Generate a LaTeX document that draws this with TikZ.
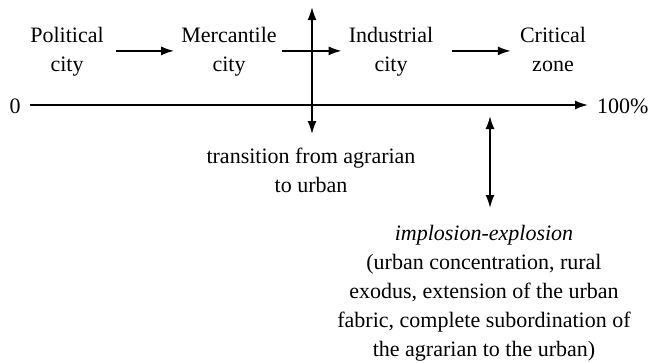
\documentclass[tikz,border=0pt]{standalone}
\usepackage{fontspec}
\setmainfont{Liberation Serif}
\usetikzlibrary{arrows.meta}
\begin{document}
\begin{tikzpicture}[x=1pt,y=-1pt,
  lbl/.style={font=\fontsize{22}{29}\selectfont, align=center, inner sep=0pt},
  tip/.tip={Latex[length=13pt,width=9pt]},
  arr/.style={line width=1.8pt, -tip},
  darr/.style={line width=1.8pt, tip-tip}]
\useasboundingbox (0,0) rectangle (650,362);
\node[lbl, anchor=north] (political) at (67,21.7) {\strut Political\\city\strut};
\node[lbl, anchor=north] (mercantile) at (229,21.7) {\strut Mercantile\\city\strut};
\node[lbl, anchor=north] (industrial) at (391,21.7) {\strut Industrial\\city\strut};
\node[lbl, anchor=north] (critical) at (553,21.7) {\strut Critical\\zone\strut};
\node[lbl, anchor=base] (zero) at (15,113) {0};
\node[lbl, anchor=base west] (hundred) at (597,113) {100\%};
\coordinate (axl) at (30,105);
\coordinate (axr) at (588,105);
\draw[arr] (axl) -- (axr);
\draw[arr, shorten <=12pt, shorten >=7pt] (political.east) -- (mercantile.west);
\draw[arr, shorten <=5pt, shorten >=7pt] (mercantile.east) -- (industrial.west);
\draw[arr, shorten <=19pt, shorten >=9pt] (industrial.east) -- (critical.west);
\coordinate (vtop) at (312,7);
\coordinate (vbot) at (312,134);
\draw[darr] (vbot) -- (vtop);
\node[lbl, anchor=north] (transition) at (311,142.7) {\strut transition from agrarian\\to urban\strut};
\coordinate (dtop) at (490,116);
\coordinate (dbot) at (490,208);
\draw[darr] (dtop) -- (dbot);
\node[lbl, anchor=north] (implosion) at (484,219.7) {\strut\textit{implosion-explosion}\\(urban concentration, rural\\exodus, extension of the urban\\fabric, complete subordination of\\the agrarian to the urban)\strut};
\end{tikzpicture}
\end{document}
